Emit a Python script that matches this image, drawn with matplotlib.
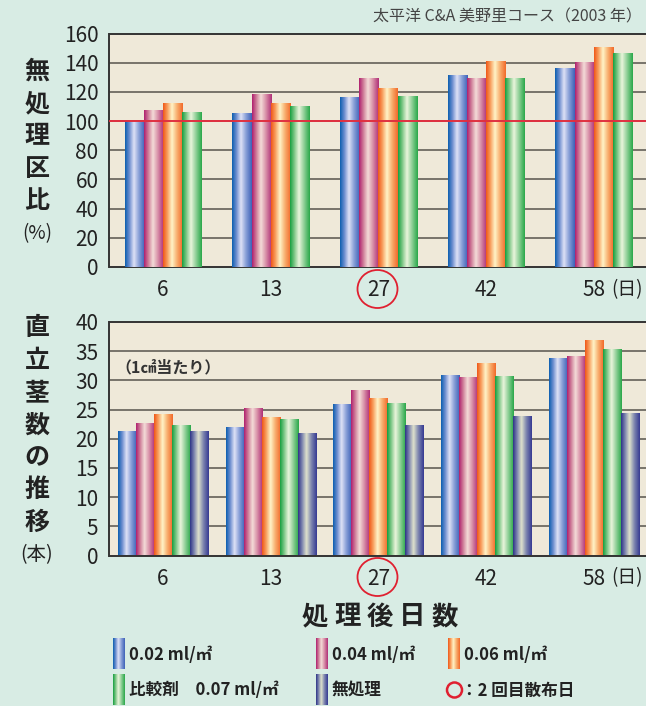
import numpy as np
import matplotlib
matplotlib.use("Agg")
import matplotlib.pyplot as plt
from matplotlib.colors import LinearSegmentedColormap
from matplotlib.patches import Ellipse

plt.rcParams['font.family'] = ['Noto Sans CJK JP', 'DejaVu Sans']

# ---------------- data ----------------
days = ["6", "13", "27", "42", "58"]
ratio_002 = [100, 105, 116, 131, 136]
ratio_004 = [107.5, 118.5, 129, 129, 140]
ratio_006 = [112, 112, 122, 140.5, 150.5]
ratio_ref = [106, 110, 117, 129, 146]

stems_002 = [21.2, 21.9, 25.8, 30.8, 33.7]
stems_004 = [22.5, 25.1, 28.2, 30.4, 34.0]
stems_006 = [24.1, 23.6, 26.8, 32.8, 36.7]
stems_ref = [22.2, 23.2, 26.0, 30.6, 35.2]
stems_none = [21.2, 20.8, 22.2, 23.7, 24.3]

legend_labels = ["0.02 ml/㎡", "0.04 ml/㎡", "0.06 ml/㎡",
                 "比較剤　0.07 ml/㎡", "無処理"]
top_yticks = [0, 20, 40, 60, 80, 100, 120, 140, 160]
bot_yticks = [0, 5, 10, 15, 20, 25, 30, 35, 40]

# ---------------- styles ----------------
W, H = 646, 706
BG = "#d8ece4"
PLOT_BG = "#efe9d9"
grad_stops = {
    "blue":   ["#0d5fb0", "#6f8fd0", "#dfe2f6", "#8aa0d8", "#3e62b8"],
    "mag":    ["#b0206f", "#d0809a", "#f4dcd8", "#d890a8", "#b03078"],
    "orange": ["#f05818", "#f8a060", "#fff4c8", "#f8b070", "#f26a2a"],
    "green":  ["#17a040", "#80c888", "#eaf5dc", "#90d098", "#2aa84a"],
    "navy":   ["#2e3488", "#8088b0", "#dfe2cc", "#8088b0", "#363a92"],
}
cmaps = {k: LinearSegmentedColormap.from_list(k, list(zip([0, 0.22, 0.45, 0.7, 1.0], v)))
         for k, v in grad_stops.items()}
grad = np.linspace(0, 1, 64).reshape(1, -1)

fig = plt.figure(figsize=(W / 100, H / 100), dpi=100, facecolor=BG)

group_px = 107.7
x_left = -0.497
x_right = 5.2
ax_w = (x_right - x_left) * group_px / W
ax_left = 109.5 / W


def style_axes(ax, yticks, ymax):
    ax.set_facecolor(PLOT_BG)
    ax.set_xlim(x_left, x_right)
    ax.set_ylim(0, ymax)
    ax.set_yticks(yticks)
    ax.set_yticklabels([str(t) for t in yticks], fontsize=15, color="#222")
    ax.set_xticks(range(len(days)))
    ax.set_xticklabels(days, fontsize=15, color="#222")
    ax.tick_params(axis="y", length=0, pad=8)
    ax.tick_params(axis="x", length=0, pad=9)
    for t in yticks[1:-1]:
        ax.axhline(t, color="#6e6a62", lw=1.3, zorder=1)
    for s in ["left", "bottom", "top"]:
        ax.spines[s].set_color("#333")
        ax.spines[s].set_linewidth(1.4)
    ax.spines["right"].set_visible(False)


def gradient_bars(ax, series, keys, width):
    n = len(series)
    x = np.arange(len(days))
    for i, (vals, key) in enumerate(zip(series, keys)):
        bars = ax.bar(x + (i - (n - 1) / 2) * width, vals, width=width,
                      color=grad_stops[key][0], zorder=2, linewidth=0)
        for p in bars.patches:
            x0, y0 = p.get_x(), p.get_y()
            ax.imshow(grad, cmap=cmaps[key], aspect="auto", zorder=3,
                      extent=[x0, x0 + p.get_width(), y0, y0 + p.get_height()],
                      interpolation="bilinear")


# top panel
ax1 = fig.add_axes([ax_left, 1 - 267 / H, ax_w, 233.5 / H])
style_axes(ax1, top_yticks, 160)
gradient_bars(ax1, [ratio_002, ratio_004, ratio_006, ratio_ref],
              ["blue", "mag", "orange", "green"], 0.178)
ax1.axhline(100, color="#e03040", lw=1.4, zorder=4)
ax1.set_xlim(x_left, x_right)
ax1.set_ylim(0, 160)

# bottom panel
ax2 = fig.add_axes([ax_left, 1 - 555.5 / H, ax_w, 233.5 / H])
style_axes(ax2, bot_yticks, 40)
gradient_bars(ax2, [stems_002, stems_004, stems_006, stems_ref, stems_none],
              ["blue", "mag", "orange", "green", "navy"], 0.1675)
ax2.set_xlim(x_left, x_right)
ax2.set_ylim(0, 40)

# overlay in pixel coordinates
ov = fig.add_axes([0, 0, 1, 1], facecolor="none")
ov.set_xlim(0, W)
ov.set_ylim(H, 0)
ov.axis("off")

ov.text(373, 17, "太平洋 C&A 美野里コース（2003 年）", fontsize=11.5, color="#444",
        ha="left", va="center")
ov.text(115, 367, "（1㎠当たり）", fontsize=11.5, fontweight="bold", color="#333",
        ha="left", va="center")
for cy in (290, 578):
    ov.text(643, cy, "(日)", fontsize=13.5, color="#222", ha="right", va="center")

# vertical y labels
top_chars = ["無", "処", "理", "区", "比"]
for j, c in enumerate(top_chars):
    ov.text(37, 71.7 + j * 32.4, c, fontsize=18, fontweight="bold", color="#222",
            ha="center", va="center")
ov.text(37, 234, "(%)", fontsize=13.5, color="#222", ha="center", va="center")
bot_chars = ["直", "立", "茎", "数", "の", "推", "移"]
for j, c in enumerate(bot_chars):
    ov.text(37, 328.3 + j * 32.4, c, fontsize=18, fontweight="bold", color="#222",
            ha="center", va="center")
ov.text(37, 555, "(本)", fontsize=14, color="#222", ha="center", va="center")

# red circles around the 2nd spray day
for cy in (289, 577):
    ov.add_patch(Ellipse((377.5, cy), 40, 38, fill=False, ec="#e02030", lw=1.3))

# x label
for j, c in enumerate("処理後日数"):
    ov.text(315 + j * 32.5, 617, c, fontsize=19, fontweight="bold", color="#222",
            ha="center", va="center")

# legend
leg_pos = [(113, 654), (316, 654), (448, 654), (113, 689.5), (316, 689.5)]
for (lx, ly), key, lab in zip(leg_pos, ["blue", "mag", "orange", "green", "navy"], legend_labels):
    ov.imshow(grad, cmap=cmaps[key], aspect="auto", interpolation="bilinear",
              extent=[lx, lx + 12, ly + 15.5, ly - 15.5])
    ov.text(lx + 16, ly + 1, lab, fontsize=12, fontweight="bold", color="#222",
            ha="left", va="center")
ov.add_patch(Ellipse((454.5, 690), 15, 15, fill=False, ec="#e02030", lw=1.8))
ov.text(461, 691, "：2 回目散布日", fontsize=12, fontweight="bold", color="#222",
        ha="left", va="center")
ov.set_xlim(0, W)
ov.set_ylim(H, 0)

fig.savefig("out.png", dpi=100, facecolor=BG)
